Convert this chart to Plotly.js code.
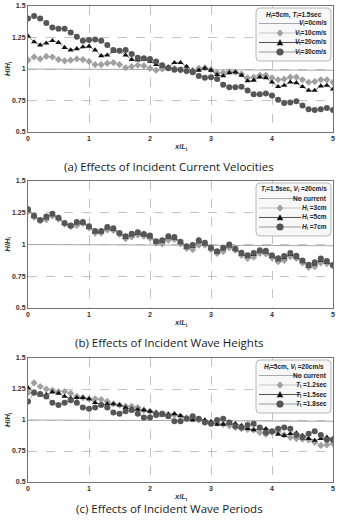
<!DOCTYPE html>
<html>
<head>
<meta charset="utf-8">
<script src="https://cdn.plot.ly/plotly-3.0.1.min.js"></script>
<style>
  html, body { margin: 0; padding: 0; background: #fff; }
  #chart { width: 339px; height: 522px; }
</style>
</head>
<body>
<div id="chart"></div>
<script>
// Relative distance from the structure, x/L_i
const xL = [0,0.1,0.2,0.3,0.4,0.5,0.6,0.7,0.8,0.9,1.0,1.1,1.2,1.3,1.4,1.5,1.6,1.7,1.8,1.9,2.0,
            2.1,2.2,2.3,2.4,2.5,2.6,2.7,2.8,2.9,3.0,3.1,3.2,3.3,3.4,3.5,3.6,3.7,3.8,3.9,4.0,
            4.1,4.2,4.3,4.4,4.5,4.6,4.7,4.8,4.9,5.0];
const xLine = [0, 5];

// (a) current velocity, H_i = 5 cm, T_i = 1.5 s
const aV0 = [1.0, 0.99];
const aV10 = [1.07,1.095,1.08,1.10,1.095,1.075,1.065,1.07,1.08,1.075,1.06,1.035,1.035,1.045,1.05,1.035,1.01,1.02,1.03,1.025,1.005,
              0.99,1.0,1.01,1.005,0.99,0.985,0.99,1.005,1.01,0.995,0.97,0.97,0.98,0.975,0.96,0.93,0.935,0.95,0.95,0.93,
              0.915,0.92,0.935,0.935,0.915,0.895,0.90,0.915,0.915,0.895];
const aV20 = [1.26,1.215,1.19,1.205,1.225,1.21,1.17,1.15,1.16,1.175,1.18,1.15,1.105,1.11,1.14,1.145,1.11,1.075,1.07,1.075,1.06,
              1.035,1.02,1.015,1.05,1.05,1.02,0.985,0.99,1.005,0.99,0.955,0.945,0.97,0.975,0.95,0.905,0.91,0.935,0.93,0.895,
              0.86,0.87,0.895,0.89,0.86,0.83,0.83,0.865,0.87,0.84];
const aV30 = [1.40,1.42,1.40,1.365,1.33,1.32,1.32,1.29,1.255,1.225,1.23,1.235,1.225,1.19,1.15,1.145,1.15,1.12,1.09,1.085,1.08,
              1.06,1.03,1.005,0.995,0.995,0.985,0.975,0.945,0.93,0.935,0.92,0.875,0.855,0.855,0.86,0.83,0.80,0.80,0.805,0.79,
              0.755,0.73,0.735,0.745,0.71,0.68,0.675,0.68,0.69,0.675];

// (b) wave height, T_i = 1.5 s, V_i = 20 cm/s
const bNone = [1.0, 0.99];
const bH3 = [1.26,1.215,1.185,1.195,1.225,1.20,1.16,1.14,1.15,1.165,1.13,1.09,1.09,1.115,1.11,1.08,1.045,1.06,1.075,1.065,1.05,
             1.01,1.005,1.035,1.04,1.005,0.97,0.96,0.995,0.995,0.96,0.93,0.945,0.975,0.955,0.915,0.89,0.90,0.93,0.925,0.895,
             0.865,0.875,0.905,0.89,0.855,0.82,0.825,0.855,0.85,0.83];
const bH5 = [1.27,1.22,1.19,1.21,1.235,1.205,1.165,1.145,1.17,1.17,1.135,1.10,1.10,1.13,1.12,1.085,1.055,1.075,1.085,1.075,1.06,
             1.02,1.025,1.055,1.05,1.015,0.98,0.985,1.02,1.005,0.97,0.94,0.965,0.99,0.96,0.925,0.905,0.92,0.945,0.94,0.905,
             0.88,0.895,0.92,0.90,0.865,0.83,0.845,0.875,0.86,0.835];
const bH7 = [1.277,1.227,1.193,1.22,1.243,1.21,1.17,1.15,1.177,1.177,1.143,1.106,1.106,1.138,1.127,1.09,1.064,1.085,1.096,1.083,1.07,
             1.025,1.033,1.064,1.06,1.022,0.986,0.996,1.033,1.014,0.975,0.946,0.975,1.0,0.967,0.935,0.915,0.933,0.954,0.95,0.915,
             0.891,0.91,0.933,0.912,0.875,0.84,0.86,0.89,0.87,0.839];

// (c) wave period, H_i = 5 cm, V_i = 20 cm/s
const cNone = [1.0, 0.99];
const cT12 = [1.22,1.30,1.27,1.25,1.24,1.23,1.23,1.215,1.19,1.18,1.17,1.17,1.165,1.15,1.13,1.12,1.11,1.11,1.10,1.08,1.07,
              1.06,1.05,1.045,1.04,1.03,1.02,1.01,1.00,0.99,0.98,0.975,0.965,0.955,0.94,0.93,0.925,0.92,0.90,0.885,0.90,
              0.905,0.88,0.86,0.85,0.845,0.84,0.82,0.795,0.80,0.81];
const cT15 = [1.26,1.22,1.20,1.205,1.225,1.215,1.19,1.175,1.18,1.18,1.17,1.14,1.125,1.13,1.13,1.12,1.10,1.09,1.085,1.08,1.07,
              1.055,1.04,1.045,1.05,1.035,1.01,1.0,1.01,1.0,0.985,0.965,0.965,0.975,0.97,0.955,0.93,0.92,0.93,0.93,0.91,
              0.885,0.875,0.89,0.895,0.875,0.85,0.835,0.85,0.86,0.85];
const cT18 = [1.15,1.22,1.21,1.19,1.14,1.12,1.14,1.16,1.14,1.10,1.09,1.10,1.12,1.10,1.06,1.05,1.07,1.08,1.05,1.02,1.02,
              1.04,1.05,1.03,0.99,0.99,1.01,1.03,1.01,0.98,0.97,1.0,1.01,0.98,0.95,0.94,0.96,0.97,0.94,0.90,0.91,
              0.93,0.94,0.93,0.88,0.86,0.89,0.91,0.88,0.84,0.84];

// Tick labels
const xTicks = [0, 1, 2, 3, 4, 5];
const yTicks = [0.5, 0.75, 1, 1.25, 1.5];
const yTickText = ['0.5', '0.75', '1', '1.25', '1.5'];

// Panel texts
const captions = ['(a) Effects of Incident Current Velocities',
                  '(b) Effects of Incident Wave Heights',
                  '(c) Effects of Incident Wave Periods'];
const legendTitles = ['<i>H</i><sub>i</sub>=5cm, <i>T</i><sub>i</sub>=1.5sec',
                      '<i>T</i><sub>i</sub>=1.5sec, <i>V</i><sub>i</sub> =20cm/s',
                      '<i>H</i><sub>i</sub>=5cm, <i>V</i><sub>i</sub> =20cm/s'];
const legendLabels = [
  ['<i>V</i><sub>i</sub>=0cm/s', '<i>V</i><sub>i</sub>=10cm/s', '<i>V</i><sub>i</sub>=20cm/s', '<i>V</i><sub>i</sub>=30cm/s'],
  ['No current', '<i>H</i><sub>i</sub> =3cm', '<i>H</i><sub>i</sub> =5cm', '<i>H</i><sub>i</sub> =7cm'],
  ['No current', '<i>T</i><sub>i</sub> =1.2sec', '<i>T</i><sub>i</sub> =1.5sec', '<i>T</i><sub>i</sub> =1.8sec']
];

// ---- styling ----
const W = 339, H = 522;
const M = {l: 28, r: 6, t: 6, b: 40};
const plotW = W - M.l - M.r, plotH = H - M.t - M.b;
const domains = [[0.7353, 1], [0.3655, 0.6324], [0, 0.2605]];

const styles = [
  {kind: 'flat',     color: '#a8a8a8'},
  {kind: 'diamond',  color: '#a0a0a0', line: '#b8b8b8', size: 5.5},
  {kind: 'triangle', color: '#111111', line: '#555555', size: 5.5},
  {kind: 'circle',   color: '#565656', line: '#808080', size: 6}
];
const symbolOf = {diamond: 'diamond', triangle: 'triangle-up', circle: 'circle'};

const panels = [
  [aV0, aV10, aV20, aV30],
  [bNone, bH3, bH5, bH7],
  [cNone, cT12, cT15, cT18]
];

const traces = [];
panels.forEach((series, p) => {
  const xa = p === 0 ? 'x' : 'x' + (p + 1);
  const ya = p === 0 ? 'y' : 'y' + (p + 1);
  series.forEach((ys, k) => {
    const st = styles[k];
    if (st.kind === 'flat') {
      traces.push({x: xLine, y: ys, xaxis: xa, yaxis: ya, type: 'scatter', mode: 'lines',
                   line: {color: st.color, width: 1.1}, hoverinfo: 'skip'});
    } else {
      traces.push({x: xL, y: ys, xaxis: xa, yaxis: ya, type: 'scatter', mode: 'lines+markers',
                   line: {color: st.line, width: 0.7},
                   marker: {symbol: symbolOf[st.kind], size: st.size, color: st.color,
                            line: {width: 0}}});
    }
  });
});

const tickFont = {family: 'Liberation Sans, Arial, sans-serif', size: 7, weight: 'bold', color: '#333'};
function xAxis(anchor) {
  return {anchor: anchor, domain: [0, 1], range: [0, 5], tickvals: xTicks,
          showgrid: true, gridcolor: '#b4b4b4', gridwidth: 0.8, griddash: 'dash',
          zeroline: false, showline: true, mirror: true, linecolor: '#727272', linewidth: 1,
          ticks: '', tickfont: tickFont, fixedrange: true};
}
function yAxis(anchor, dom) {
  return {anchor: anchor, domain: dom, range: [0.5, 1.5], tickvals: yTicks, ticktext: yTickText,
          showgrid: true, gridcolor: '#b4b4b4', gridwidth: 0.8, griddash: 'dash',
          zeroline: false, showline: true, mirror: true, linecolor: '#727272', linewidth: 1,
          ticks: '', tickfont: tickFont, fixedrange: true};
}

// pixel -> paper helpers
const pxX = px => (px - M.l) / plotW;
const pxY = py => 1 - (py - M.t) / plotH;

const shapes = [];
const annotations = [];
const legFont = {family: 'Liberation Sans, Arial, sans-serif', size: 6.5, weight: 'bold', color: '#222'};
const titleFont = {family: 'Liberation Sans, Arial, sans-serif', size: 7.5, weight: 'bold', color: '#333'};

const capY = [166, 342, 508];
domains.forEach((dom, p) => {
  const top = M.t + (1 - dom[1]) * plotH;
  const bottom = M.t + (1 - dom[0]) * plotH;

  // axis titles
  annotations.push({xref: 'paper', yref: 'paper', x: pxX(M.l + plotW / 2), y: pxY(bottom + 15),
                    text: '<i>x</i>/<i>L</i><sub>i</sub>', showarrow: false, font: titleFont,
                    xanchor: 'center', yanchor: 'middle'});
  annotations.push({xref: 'paper', yref: 'paper', x: pxX(8), y: pxY((top + bottom) / 2),
                    text: '<i>H</i>/<i>H</i><sub>i</sub>', showarrow: false, font: titleFont,
                    textangle: -90, xanchor: 'center', yanchor: 'middle'});
  // caption
  annotations.push({xref: 'paper', yref: 'paper', x: pxX(169), y: pxY(capY[p]),
                    text: captions[p], showarrow: false,
                    font: {family: 'Open Sans, sans-serif', size: 11.5, color: '#1a1a1a'},
                    xanchor: 'center', yanchor: 'middle'});

  // legend box
  const bx0 = 256, bx1 = 331, by0 = top + 2, by1 = top + 55, r = 4;
  const X = pxX, Y = pxY;
  const path = `M ${X(bx0 + r)},${Y(by0)} L ${X(bx1 - r)},${Y(by0)} Q ${X(bx1)},${Y(by0)} ${X(bx1)},${Y(by0 + r)} ` +
               `L ${X(bx1)},${Y(by1 - r)} Q ${X(bx1)},${Y(by1)} ${X(bx1 - r)},${Y(by1)} ` +
               `L ${X(bx0 + r)},${Y(by1)} Q ${X(bx0)},${Y(by1)} ${X(bx0)},${Y(by1 - r)} ` +
               `L ${X(bx0)},${Y(by0 + r)} Q ${X(bx0)},${Y(by0)} ${X(bx0 + r)},${Y(by0)} Z`;
  shapes.push({type: 'path', xref: 'paper', yref: 'paper', path: path,
               fillcolor: '#f8f8f8', line: {color: '#b0b0b0', width: 0.9}, layer: 'above'});
  annotations.push({xref: 'paper', yref: 'paper', x: X((bx0 + bx1) / 2), y: Y(top + 8.5),
                    text: legendTitles[p], showarrow: false, font: legFont,
                    xanchor: 'center', yanchor: 'middle'});
  const rows = [17.5, 27, 36.5, 46];
  rows.forEach((dy, k) => {
    const yy = top + dy, st = styles[k];
    const lc = st.kind === 'flat' ? st.color : (k === 2 ? '#222' : st.line);
    shapes.push({type: 'line', xref: 'paper', yref: 'paper', x0: X(259), x1: X(301), y0: Y(yy), y1: Y(yy),
                 line: {color: lc, width: st.kind === 'flat' ? 1.1 : 0.8}, layer: 'above'});
    const cx = 280, s = 3.3;
    if (st.kind === 'circle') {
      shapes.push({type: 'circle', xref: 'paper', yref: 'paper', x0: X(cx - 3.6), x1: X(cx + 3.6),
                   y0: Y(yy - 3.6), y1: Y(yy + 3.6), fillcolor: st.color, line: {width: 0}, layer: 'above'});
    } else if (st.kind === 'diamond') {
      shapes.push({type: 'path', xref: 'paper', yref: 'paper', layer: 'above',
                   path: `M ${X(cx)},${Y(yy - s - 0.5)} L ${X(cx + s)},${Y(yy)} L ${X(cx)},${Y(yy + s + 0.5)} L ${X(cx - s)},${Y(yy)} Z`,
                   fillcolor: st.color, line: {width: 0}});
    } else if (st.kind === 'triangle') {
      shapes.push({type: 'path', xref: 'paper', yref: 'paper', layer: 'above',
                   path: `M ${X(cx)},${Y(yy - s)} L ${X(cx + s)},${Y(yy + s - 0.6)} L ${X(cx - s)},${Y(yy + s - 0.6)} Z`,
                   fillcolor: st.color, line: {width: 0}});
    }
    annotations.push({xref: 'paper', yref: 'paper', x: X(329), y: Y(yy),
                      text: legendLabels[p][k], showarrow: false, font: legFont,
                      xanchor: 'right', yanchor: 'middle'});
  });
});

const layout = {
  width: W, height: H, margin: M,
  paper_bgcolor: '#ffffff', plot_bgcolor: '#ffffff',
  showlegend: false,
  xaxis: xAxis('y'), yaxis: yAxis('x', domains[0]),
  xaxis2: xAxis('y2'), yaxis2: yAxis('x2', domains[1]),
  xaxis3: xAxis('y3'), yaxis3: yAxis('x3', domains[2]),
  shapes: shapes,
  annotations: annotations
};

Plotly.newPlot('chart', traces, layout, {staticPlot: true, displayModeBar: false});
</script>
</body>
</html>
